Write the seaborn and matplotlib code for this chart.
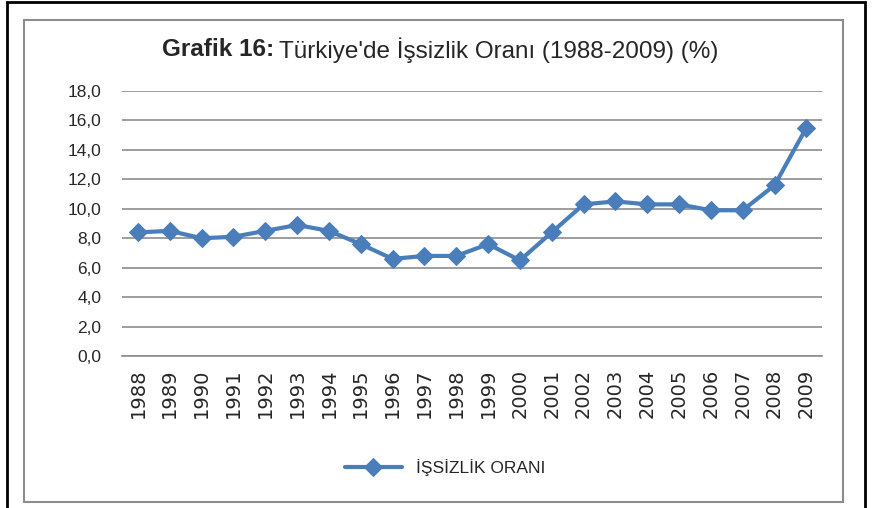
import matplotlib
matplotlib.use('Agg')
import matplotlib.pyplot as plt
from matplotlib.patches import Rectangle
import seaborn as sns
import pandas as pd

# veriler
yillar = [str(y) for y in range(1988, 2010)]
issizlik = [8.4, 8.5, 8.0, 8.1, 8.5, 8.9, 8.5, 7.6, 6.6, 6.8, 6.8,
            7.6, 6.5, 8.4, 10.3, 10.5, 10.3, 10.3, 9.9, 9.9, 11.6, 15.5]
y_ticks = [0, 2, 4, 6, 8, 10, 12, 14, 16, 18]
seri_adi = 'İŞSİZLİK ORANI'

df = pd.DataFrame({'yil': yillar, 'oran': issizlik})

sns.set_style('white')
plt.rcParams['font.family'] = ['Liberation Sans', 'DejaVu Sans']

fig = plt.figure(figsize=(8.72, 5.08), dpi=100)
ax = fig.add_axes([0.140, 0.299, 0.803, 0.522])

renk = '#4A7EBB'
sns.lineplot(data=df, x='yil', y='oran', ax=ax, color=renk, linewidth=3,
             marker='D', markersize=9, markeredgecolor=renk, label=seri_adi,
             sort=False)

ax.set_xlim(-0.5, len(yillar) - 0.5)
ax.set_ylim(0, 18)
ax.set_yticks(y_ticks)
ax.set_yticklabels([f'{v:.1f}'.replace('.', ',') for v in y_ticks], fontsize=12.5)
ax.set_xticks(range(len(yillar)))
ax.set_xticklabels(yillar, rotation=90, fontsize=14, family=['DejaVu Sans'])
ax.tick_params(axis='y', length=0, pad=15)
ax.tick_params(axis='x', length=0, pad=9)
ax.set_xlabel('')
ax.set_ylabel('')
ax.grid(axis='y', color='#8c8c8c', linewidth=1.2)
for s in ['left', 'right', 'top']:
    ax.spines[s].set_visible(False)
ax.spines['bottom'].set_color('#8c8c8c')
ax.spines['bottom'].set_linewidth(1.2)

fig.text(274 / 872, 0.902, 'Grafik 16:', ha='right', va='center', fontsize=17.5, fontweight='bold')
fig.text(279 / 872, 0.902, "Türkiye'de İşsizlik Oranı (1988-2009) (%)", ha='left', va='center', fontsize=17.5)

leg = ax.legend(loc='center', frameon=False, fontsize=12.5, handlelength=3.3)
leg.set_bbox_to_anchor((445 / 872, 1 - 468 / 508), transform=fig.transFigure)

# çerçeveler
fig.patches.append(Rectangle((7 / 872, -0.02), 858 / 872, 1.016, transform=fig.transFigure,
                             fill=False, edgecolor='black', linewidth=2))
fig.patches.append(Rectangle((24 / 872, 6 / 508), 819 / 872, 482 / 508, transform=fig.transFigure,
                             fill=False, edgecolor='#8c8c8c', linewidth=1.5))

plt.savefig('out.png', dpi=100)
